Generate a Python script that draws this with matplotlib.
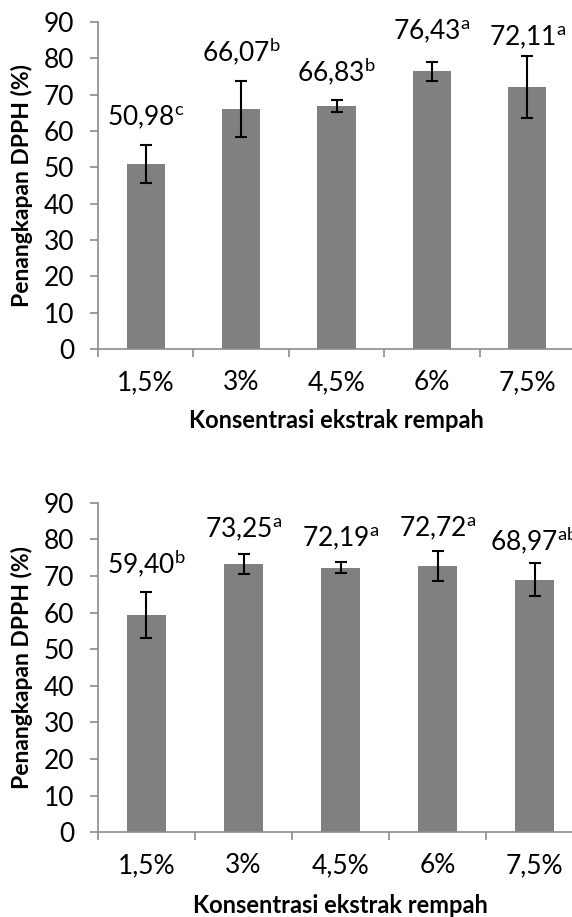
import matplotlib
matplotlib.use("Agg")
import matplotlib.pyplot as plt

plt.rcParams["font.family"] = ["Lato", "DejaVu Sans"]
plt.rcParams["mathtext.fontset"] = "custom"
plt.rcParams["mathtext.rm"] = "Lato"
plt.rcParams["mathtext.it"] = "Lato"
plt.rcParams["mathtext.bf"] = "Lato:bold"

# Spice extract concentration
categories = ["1,5%", "3%", "4,5%", "6%", "7,5%"]

# DPPH scavenging (%), first experiment
means_a = [50.98, 66.07, 66.83, 76.43, 72.11]
errors_a = [5.3, 7.7, 1.7, 2.65, 8.4]
letters_a = ["c", "b", "b", "a", "a"]

# DPPH scavenging (%), second experiment
means_b = [59.40, 73.25, 72.19, 72.72, 68.97]
errors_b = [6.3, 2.85, 1.5, 4.2, 4.55]
letters_b = ["b", "a", "a", "a", "ab"]

y_ticks = [0, 10, 20, 30, 40, 50, 60, 70, 80, 90]

ylabel = "Penangkapan DPPH (%)"
xlabel = "Konsentrasi ekstrak rempah"

BAR = "#808080"
AXIS = "#8c8c8c"
TICK_FS = 19
LABEL_FS = 19

fig = plt.figure(figsize=(5.72, 9.17), dpi=100)
ax_top = fig.add_axes([0.1713, 0.6194, 0.834, 0.3566])
ax_bot = fig.add_axes([0.1713, 0.0924, 0.848, 0.3594])


def fmt(v):
    return f"{v:.2f}".replace(".", ",")


def draw(ax, means, errors, letters, label_gap_pt, ylab_x):
    x = list(range(len(categories)))
    ax.bar(x, means, width=0.4, color=BAR, zorder=2)
    ax.errorbar(x, means, yerr=errors, fmt="none", ecolor="black",
                elinewidth=1.5, capsize=4.3, capthick=1.5, zorder=3)
    for xi, m, e, let, gap in zip(x, means, errors, letters, label_gap_pt):
        ax.annotate(fmt(m) + r"$^{\mathrm{" + let + "}}$",
                    xy=(xi, m + e), xytext=(0, gap), textcoords="offset points",
                    ha="center", va="baseline", fontsize=LABEL_FS, color="black",
                    annotation_clip=False)

    ax.set_xlim(-0.5, len(categories) - 0.5)
    ax.set_ylim(0, 90)
    ax.set_yticks(y_ticks)
    ax.set_xticks(x)
    ax.set_xticklabels(categories)
    # tick marks sit on the category boundaries
    ax.set_xticks([i - 0.5 for i in range(len(categories) + 1)], minor=True)
    ax.tick_params(axis="x", which="major", length=0, pad=15, labelsize=TICK_FS)
    ax.tick_params(axis="x", which="minor", length=6, width=1.2, color=AXIS,
                   direction="out")
    ax.tick_params(axis="y", length=6, width=1.2, color=AXIS, direction="out",
                   pad=11, labelsize=TICK_FS)

    for side in ("top", "right"):
        ax.spines[side].set_visible(False)
    for side in ("left", "bottom"):
        ax.spines[side].set_color(AXIS)
        ax.spines[side].set_linewidth(1.2)

    ax.set_ylabel(ylabel, fontsize=16.5, fontweight="bold")
    ax.yaxis.set_label_coords(ylab_x, 0.5)
    ax.set_xlabel(xlabel, fontsize=17, fontweight="bold")
    ax.xaxis.label.set_va("baseline")


draw(ax_top, means_a, errors_a, letters_a, [13.7, 13.7, 13.0, 15.8, 7.9], -0.136)
ax_top.xaxis.set_label_coords(0.5, -0.2416)
draw(ax_bot, means_b, errors_b, letters_b, [12.2, 11.5, 11.5, 10.0, 8.6], -0.134)
ax_bot.xaxis.set_label_coords(0.5, -0.244)

fig.savefig("out.png", dpi=100)
